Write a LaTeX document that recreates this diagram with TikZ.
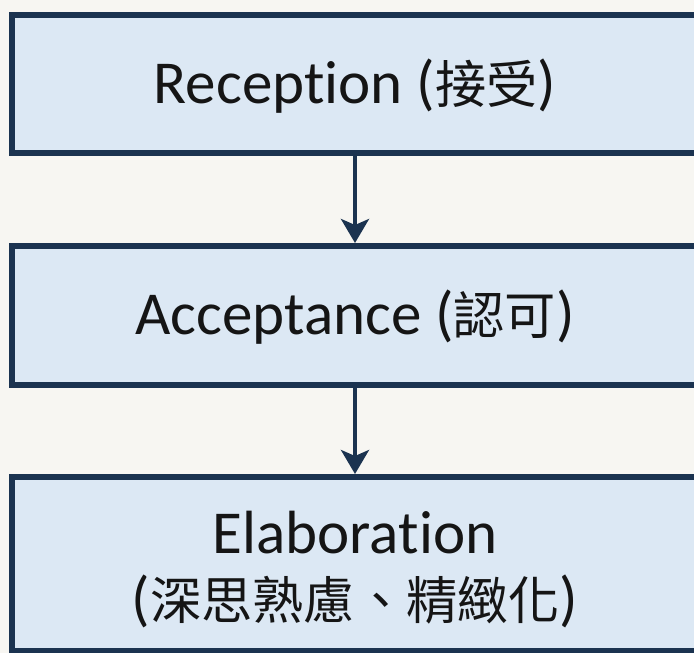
\documentclass[tikz,border=0pt]{standalone}
\usepackage{fontspec}
\setmainfont[RawFeature={-liga}]{Carlito}
\newfontfamily\cjk[Scale=0.84]{Noto Sans CJK TC}
\usetikzlibrary{arrows.meta}
\definecolor{bgc}{HTML}{F7F6F2}
\definecolor{boxfill}{HTML}{DCE8F4}
\definecolor{navy}{HTML}{1B3350}
\definecolor{txt}{HTML}{151515}
\tikzset{
  stagebox/.style={draw=navy, fill=boxfill, line width=6pt, minimum width=686pt,
    inner sep=0pt, align=center, text=txt, font=\fontsize{61}{68}\selectfont},
  flowarrow/.style={draw=navy, line width=4pt,
    -{Stealth[length=24pt,width=28pt,inset=6pt]}}
}
\begin{document}
\begin{tikzpicture}[x=1pt,y=-1pt]
\useasboundingbox[fill=bgc] (0,0) rectangle (694,653);
\node[stagebox, minimum height=138pt] (rec) at (355,84) {\raisebox{-2pt}[\height][\depth]{Reception ({\cjk 接受})}};
\node[stagebox, minimum height=139pt] (acc) at (355,315.5) {\raisebox{-2pt}[\height][\depth]{Acceptance ({\cjk 認可})}};
\node[stagebox, minimum height=174pt] (ela) at (355,564) {\raisebox{-9pt}[\height][\depth]{\begin{tabular}{@{}c@{}}Elaboration\\[-2pt]({\cjk 深思熟慮、精緻化})\end{tabular}}};
\draw[flowarrow] (rec.south) -- (acc.north);
\draw[flowarrow] (acc.south) -- (ela.north);
\end{tikzpicture}
\end{document}
